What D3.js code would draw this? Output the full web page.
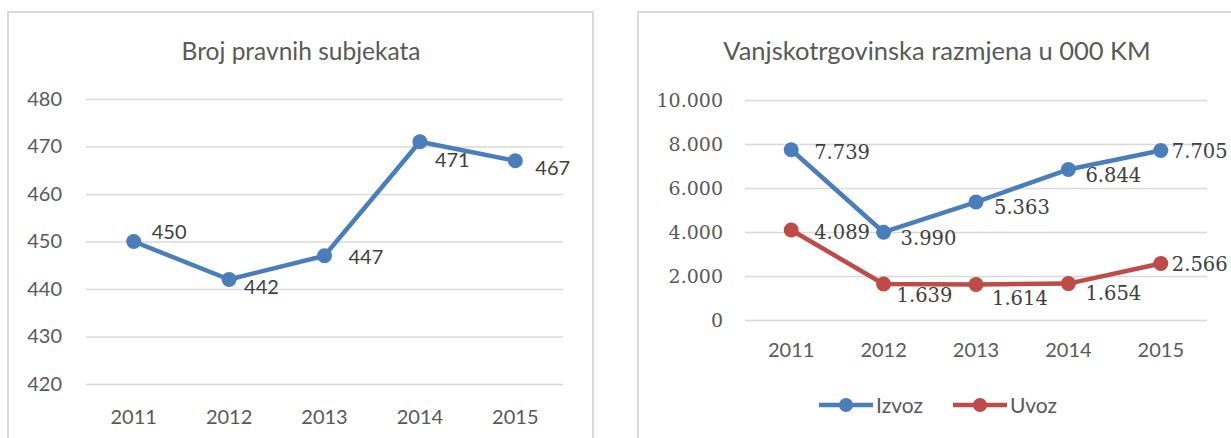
<!DOCTYPE html>
<html>
<head>
<meta charset="utf-8">
<script src="https://cdn.jsdelivr.net/npm/d3@7"></script>
<style>
  html, body { margin: 0; padding: 0; background: #fff; }
  svg { display: block; }
</style>
</head>
<body>
<svg id="chart" width="1231" height="438"></svg>
<script>
// ---- Data ----
const years = ["2011", "2012", "2013", "2014", "2015"];
const pravniSubjekti = [450, 442, 447, 471, 467];
const izvoz = [7739, 3990, 5363, 6844, 7705];
const uvoz = [4089, 1639, 1614, 1654, 2566];
const leftTicks = [420, 430, 440, 450, 460, 470, 480];
const rightTicks = [0, 2000, 4000, 6000, 8000, 10000];
const leftTitle = "Broj pravnih subjekata";
const rightTitle = "Vanjskotrgovinska razmjena u 000 KM";
const seriesNames = ["Izvoz", "Uvoz"];

// ---- Styling ----
const BLUE = "#4a7ebb";
const RED = "#be4b48";
const TEXT = "#595959";
const GRID = "#d9d9d9";
const SANS = "Lato, 'Open Sans', sans-serif";
const SERIF = "'DejaVu Serif', serif";

const locale = d3.formatLocale({ decimal: ",", thousands: ".", grouping: [3], currency: ["", " KM"] });
const fmt = locale.format(",d");

const svg = d3.select("#chart");

// chart frames
svg.append("rect").attr("x", 8).attr("y", 12).attr("width", 585).attr("height", 440)
  .attr("fill", "#fff").attr("stroke", GRID).attr("stroke-width", 2);
svg.append("rect").attr("x", 638).attr("y", 12).attr("width", 620).attr("height", 440)
  .attr("fill", "#fff").attr("stroke", GRID).attr("stroke-width", 2);

function drawChart(opts) {
  const g = svg.append("g");
  const x = d3.scaleBand().domain(years).range(opts.xRange).padding(0);
  const y = d3.scaleLinear().domain(opts.yDomain).range(opts.yRange);
  const cx = d => x(d) + x.bandwidth() / 2;

  // title
  g.append("text").attr("x", opts.titleX).attr("y", 60)
    .attr("text-anchor", "middle").attr("fill", TEXT)
    .style("font-family", SANS).style("font-size", opts.titleSize + "px")
    .text(opts.title);

  // y axis (gridlines + labels)
  const yAxis = d3.axisLeft(y).tickValues(opts.ticks)
    .tickSize(-(opts.xRange[1] - opts.xRange[0])).tickPadding(opts.tickPad)
    .tickFormat(opts.tickFormat);
  const ya = g.append("g").attr("transform", `translate(${opts.xRange[0]},0)`).call(yAxis);
  ya.select(".domain").remove();
  ya.selectAll(".tick line").attr("stroke", GRID).attr("stroke-width", 1.3);
  ya.selectAll(".tick text").attr("fill", TEXT)
    .style("font-family", opts.tickFont).style("font-size", opts.tickSize + "px");

  // x axis labels
  const xAxis = d3.axisBottom(x).tickSize(0).tickPadding(0);
  const xa = g.append("g").attr("transform", `translate(0,${opts.xLabelY})`).call(xAxis);
  xa.select(".domain").remove();
  xa.selectAll(".tick text").attr("fill", TEXT).attr("dy", "0.35em")
    .style("font-family", SANS).style("font-size", "20px");

  // series
  opts.series.forEach(s => {
    const line = d3.line().x((d, i) => cx(years[i])).y(d => y(d));
    g.append("path").datum(s.values).attr("d", line)
      .attr("fill", "none").attr("stroke", s.color).attr("stroke-width", 4.5)
      .attr("stroke-linejoin", "round");
    g.selectAll(null).data(s.values).enter().append("circle")
      .attr("cx", (d, i) => cx(years[i])).attr("cy", d => y(d)).attr("r", 7.5)
      .attr("fill", s.color);
    g.selectAll(null).data(s.values).enter().append("text")
      .attr("x", (d, i) => cx(years[i]) + s.offsets[i][0])
      .attr("y", (d, i) => y(d) + s.offsets[i][1])
      .attr("dy", "0.36em").attr("fill", "#404040")
      .style("font-family", opts.labelFont).style("font-size", opts.labelSize + "px")
      .text(d => opts.labelFormat(d));
  });
  return { x, y };
}

// left chart
drawChart({
  title: leftTitle, titleX: 301, titleSize: 24.5,
  xRange: [86, 563], yDomain: [420, 480], yRange: [384, 99],
  ticks: leftTicks, tickFormat: d3.format("d"), tickPad: 24, tickFont: SANS, tickSize: 20,
  xLabelY: 417,
  labelFont: SANS, labelSize: 20, labelFormat: d3.format("d"),
  series: [{ values: pravniSubjekti, color: BLUE,
    offsets: [[18, -10], [15, 7], [24, 1], [15, 18], [20, 7]] }]
});

// right chart
drawChart({
  title: rightTitle, titleX: 937, titleSize: 25.5,
  xRange: [745, 1207], yDomain: [0, 10000], yRange: [320, 100],
  ticks: rightTicks, tickFormat: fmt, tickPad: 22, tickFont: SERIF, tickSize: 19,
  xLabelY: 350,
  labelFont: SERIF, labelSize: 19.5, labelFormat: fmt,
  series: [
    { values: izvoz, color: BLUE, offsets: [[23, 2], [17, 6], [18, 5], [17, 6], [11, 0]] },
    { values: uvoz, color: RED, offsets: [[23, 2], [13, 11], [16, 13], [17, 9], [11, 0]] }
  ]
});

// legend
const legend = svg.append("g").attr("transform", "translate(0,405)");
const legendItems = [
  { name: seriesNames[0], color: BLUE, x0: 819 },
  { name: seriesNames[1], color: RED, x0: 953 }
];
legendItems.forEach(it => {
  legend.append("line").attr("x1", it.x0).attr("x2", it.x0 + 54).attr("y1", 0).attr("y2", 0)
    .attr("stroke", it.color).attr("stroke-width", 4.5);
  legend.append("circle").attr("cx", it.x0 + 27).attr("cy", 0).attr("r", 7).attr("fill", it.color);
  legend.append("text").attr("x", it.x0 + 57).attr("y", 0).attr("dy", "0.36em")
    .attr("fill", TEXT).style("font-family", SANS).style("font-size", "21px").text(it.name);
});
</script>
</body>
</html>
